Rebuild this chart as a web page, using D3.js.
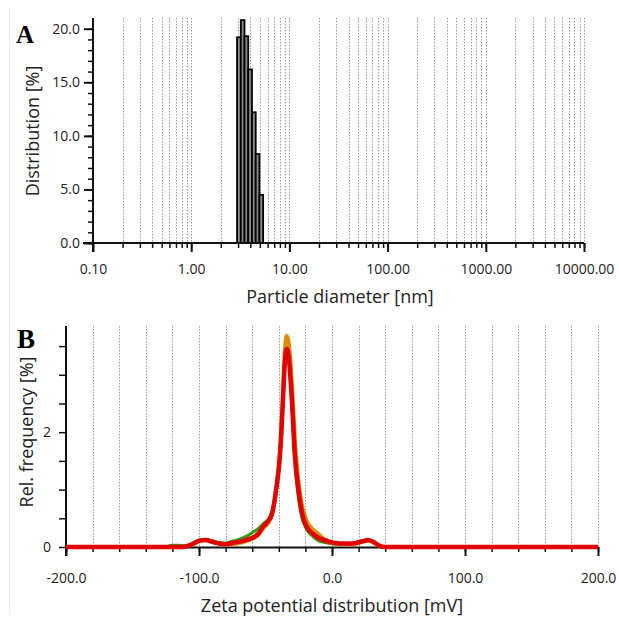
<!DOCTYPE html>
<html>
<head>
<meta charset="utf-8">
<script src="https://cdn.jsdelivr.net/npm/d3@7"></script>
<style>
  body { margin: 0; background: #fff; }
  text { font-family: "Open Sans", "Noto Sans", sans-serif; fill: #222; }
  .grid { stroke: #9c9c9c; stroke-width: 1; stroke-dasharray: 1.5,1.5; }
  .ax path, .ax line { stroke: #111; }
</style>
</head>
<body>
<div id="chart"></div>
<script>
// panel A: size distribution (log bins)
var binEdges = [2.93, 3.20, 3.49, 3.81, 4.16, 4.54, 4.95, 5.40]
var binValues = [19.2, 20.8, 19.3, 16.2, 12.2, 8.3, 4.5]
var sizeTicks = [0.1, 1, 10, 100, 1000, 10000]
var distTicks = [0, 5, 10, 15, 20]

// panel B: zeta potential, three runs
var zetaX = [-200, -125, -120, -115, -110, -105, -100, -95, -90, -85, -80, -75, -70, -65, -60, -55, -52, -48, -45, -42, -39, -37, -35.5, -34, -32.5, -30, -28, -25.5, -22.5, -19, -15, -11, -6, -1.5, 3, 8, 13, 18, 23, 27, 31, 35, 40, 200]
var zetaGreen = [0, 0.01, 0.03, 0.03, 0.02, 0.05, 0.11, 0.13, 0.11, 0.08, 0.07, 0.10, 0.13, 0.18, 0.25, 0.33, 0.40, 0.48, 0.62, 1.0, 1.65, 2.5, 3.25, 3.48, 3.3, 2.4, 1.5, 0.9, 0.5, 0.3, 0.2, 0.12, 0.08, 0.06, 0.05, 0.05, 0.06, 0.07, 0.10, 0.11, 0.08, 0.03, 0, 0]
var zetaOrange = [0, 0, 0, 0, 0.01, 0.04, 0.10, 0.12, 0.09, 0.06, 0.04, 0.05, 0.07, 0.10, 0.14, 0.22, 0.32, 0.42, 0.58, 1.0, 1.7, 2.6, 3.4, 3.68, 3.55, 2.8, 1.9, 1.2, 0.72, 0.45, 0.32, 0.24, 0.14, 0.08, 0.06, 0.05, 0.05, 0.06, 0.09, 0.11, 0.08, 0.03, 0, 0]
var zetaRed = [0, 0, 0, 0, 0.01, 0.05, 0.11, 0.12, 0.09, 0.06, 0.05, 0.07, 0.09, 0.12, 0.16, 0.24, 0.35, 0.45, 0.59, 1.0, 1.63, 2.5, 3.2, 3.45, 3.3, 2.5, 1.63, 1.04, 0.59, 0.35, 0.24, 0.17, 0.12, 0.09, 0.07, 0.06, 0.06, 0.07, 0.10, 0.12, 0.09, 0.03, 0, 0]
var zetaSeries = [
    { name: "run 1", values: zetaGreen, color: "#2f9e1a", width: 3 },
    { name: "run 2", values: zetaOrange, color: "#d98e04", width: 4 },
    { name: "run 3", values: zetaRed, color: "#e30000", width: 4.5 }
]
var zetaTicks = [-200, -100, 0, 100, 200]

const svg = d3.select("#chart").append("svg")
    .attr("width", 619)
    .attr("height", 620)

svg.append("line")
    .attr("x1", 9.5).attr("x2", 9.5).attr("y1", 8).attr("y2", 614)
    .style("stroke", "#eeeeee")

// ---------- panel A ----------
var xA = d3.scaleLog().domain([0.1, 10000]).range([93, 584])
var yA = d3.scaleLinear().domain([0, 21]).range([243, 18])

var minorA = []
for (var d = 0.1; d < 10000; d *= 10) {
    for (var k = 2; k <= 10; k++) minorA.push(+(d * k).toPrecision(3))
}

svg.append("g").selectAll("line")
    .data(minorA)
    .join("line")
    .attr("class", "grid")
    .attr("x1", d => Math.round(xA(d)) + 0.5)
    .attr("x2", d => Math.round(xA(d)) + 0.5)
    .attr("y1", yA.range()[1])
    .attr("y2", yA(0))

svg.append("g").selectAll("rect")
    .data(binValues)
    .join("rect")
    .attr("x", (d, i) => xA(binEdges[i]))
    .attr("y", d => yA(d))
    .attr("width", (d, i) => xA(binEdges[i + 1]) - xA(binEdges[i]))
    .attr("height", d => yA(0) - yA(d))
    .style("fill", "#8a8a8a")
    .style("stroke", "#000")
    .style("stroke-width", 1.8)

// x axis A: minor ticks then major
svg.append("g")
    .attr("class", "ax")
    .attr("transform", "translate(0," + yA(0) + ")")
    .call(d3.axisBottom(xA).tickValues(minorA).tickSize(5).tickFormat(""))
    .call(g => g.select(".domain").remove())
    .selectAll("line").style("stroke-width", 1.5)
svg.append("g")
    .attr("class", "ax")
    .attr("transform", "translate(0," + yA(0) + ")")
    .call(d3.axisBottom(xA).tickValues(sizeTicks).tickSize(9).tickSizeOuter(0).tickFormat(d => d.toFixed(2)))
    .call(g => g.select(".domain").attr("d", "M" + (xA.range()[0] - 10) + ",0H" + xA.range()[1]).style("stroke-width", 2))
    .call(g => g.selectAll("line").style("stroke-width", 2))
    .call(g => g.selectAll("text").attr("y", 21).style("font-size", "14px"))

// y axis A
svg.append("g")
    .attr("class", "ax")
    .attr("transform", "translate(" + xA(0.1) + ",0)")
    .call(d3.axisLeft(yA).tickValues(d3.range(0, 21, 1)).tickSize(5).tickFormat(""))
    .call(g => g.select(".domain").remove())
    .selectAll("line").style("stroke-width", 1.5)
svg.append("g")
    .attr("class", "ax")
    .attr("transform", "translate(" + xA(0.1) + ",0)")
    .call(d3.axisLeft(yA).tickValues(distTicks).tickSize(9).tickSizeOuter(0).tickFormat(d => d.toFixed(1)))
    .call(g => g.select(".domain").attr("d", "M0," + (yA(0) + 9) + "V" + yA.range()[1]).style("stroke-width", 2))
    .call(g => g.selectAll("line").style("stroke-width", 2))
    .call(g => g.selectAll("text").attr("x", -13).style("font-size", "14px"))

svg.append("text")
    .attr("transform", "translate(39,131) rotate(-90)")
    .attr("text-anchor", "middle")
    .style("font-size", "18px")
    .text("Distribution [%]")
svg.append("text")
    .attr("x", 340).attr("y", 303)
    .attr("text-anchor", "middle")
    .style("font-size", "18px")
    .text("Particle diameter [nm]")
svg.append("text")
    .attr("x", 16).attr("y", 43)
    .style("font-family", "'Liberation Serif', serif")
    .style("font-weight", "bold")
    .style("font-size", "25px")
    .style("fill", "#000")
    .text("A")

// ---------- panel B ----------
var xB = d3.scaleLinear().domain([-200, 200]).range([66, 598])
var yB = d3.scaleLinear().domain([0, 3.85]).range([547, 326])

var gridB = d3.range(-180, 201, 20)
svg.append("g").selectAll("line")
    .data(gridB)
    .join("line")
    .attr("class", "grid")
    .attr("x1", d => Math.round(xB(d)) + 0.5)
    .attr("x2", d => Math.round(xB(d)) + 0.5)
    .attr("y1", yB.range()[1])
    .attr("y2", yB(0))

svg.append("g")
    .attr("class", "ax")
    .attr("transform", "translate(0," + yB(0) + ")")
    .call(d3.axisBottom(xB).tickValues(d3.range(-200, 201, 20)).tickSize(5).tickFormat(""))
    .call(g => g.select(".domain").remove())
    .selectAll("line").style("stroke-width", 1.5)
svg.append("g")
    .attr("class", "ax")
    .attr("transform", "translate(0," + yB(0) + ")")
    .call(d3.axisBottom(xB).tickValues(zetaTicks).tickSize(9).tickSizeOuter(0).tickFormat(d => d.toFixed(1)))
    .call(g => g.select(".domain").style("stroke-width", 2))
    .call(g => g.selectAll("line").style("stroke-width", 2))
    .call(g => g.selectAll("text").attr("y", 26).style("font-size", "14px"))

svg.append("g")
    .attr("class", "ax")
    .attr("transform", "translate(" + xB(-200) + ",0)")
    .call(d3.axisLeft(yB).tickValues(d3.range(0, 3.6, 0.5)).tickSize(7).tickSizeOuter(0)
        .tickFormat(d => (d === 0 || d === 2) ? d : ""))
    .call(g => g.select(".domain").attr("d", "M0," + (yB(0) + 9) + "V" + yB.range()[1]).style("stroke-width", 2))
    .call(g => g.selectAll("line").style("stroke-width", 1.5))
    .call(g => g.selectAll("text").attr("x", -15).style("font-size", "14px"))

var line = d3.line()
    .x((d, i) => xB(zetaX[i]))
    .y(d => yB(d))
    .curve(d3.curveMonotoneX)

svg.append("g").selectAll("path")
    .data(zetaSeries)
    .join("path")
    .attr("d", s => line(s.values))
    .style("fill", "none")
    .style("stroke", s => s.color)
    .style("stroke-width", s => s.width)
    .style("stroke-linejoin", "round")

svg.append("text")
    .attr("transform", "translate(33,432) rotate(-90)")
    .attr("text-anchor", "middle")
    .style("font-size", "18px")
    .text("Rel. frequency [%]")
svg.append("text")
    .attr("x", 332).attr("y", 612)
    .attr("text-anchor", "middle")
    .style("font-size", "18px")
    .text("Zeta potential distribution [mV]")
svg.append("text")
    .attr("x", 17).attr("y", 348)
    .style("font-family", "'Liberation Serif', serif")
    .style("font-weight", "bold")
    .style("font-size", "27px")
    .style("fill", "#000")
    .text("B")
</script>
</body>
</html>
